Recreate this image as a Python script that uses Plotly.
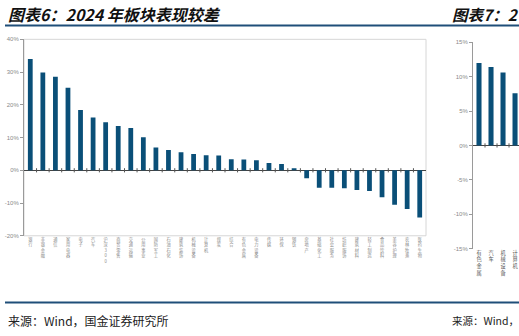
import plotly.graph_objects as go

W, H = 519, 336

# 图表6：申万一级行业 2024 年涨跌幅（%）
sectors = ["银行", "非银金融", "通信", "家用电器", "电子", "汽车", "沪深300", "商贸零售",
           "交通运输", "公用事业", "国防军工", "石油石化", "建筑装饰", "机械设备", "计算机",
           "煤炭", "综合", "有色金属", "电力设备", "传媒", "环保", "钢铁", "房地产",
           "基础化工", "社会服务", "纺织服饰", "建筑材料", "轻工制造", "食品饮料",
           "美容护理", "农林牧渔", "医药生物"]
returns = [34.0, 29.9, 28.6, 25.2, 18.4, 16.1, 14.7, 13.5, 12.9, 10.1, 7.0, 6.2, 5.5,
           5.0, 4.6, 4.5, 3.4, 3.3, 3.1, 2.2, 1.9, 0.3, -2.4, -5.3, -5.3, -5.5, -6.0,
           -6.3, -8.2, -10.5, -11.8, -14.4]

# 图表7：板块涨跌幅（%）
sectors7 = ["有色金属", "汽车", "机械设备", "计算机"]
returns7 = [12.0, 11.4, 10.6, 7.6]

y1_ticks = [-20, -10, 0, 10, 20, 30, 40]
y2_ticks = [-15, -10, -5, 0, 5, 10, 15]

BAR = "#0a4f78"
BLUE_LINE = "#1f4e79"
CJK = "Noto Sans CJK SC"


def px(x):
    return x / W


def py(y):
    return 1 - y / H


def stacked(label):
    return "<br>".join(label)


fig = go.Figure()

x1 = list(range(len(sectors)))
fig.add_trace(go.Bar(x=x1, y=returns, marker=dict(color=BAR, line_width=0),
                     width=0.38, xaxis="x", yaxis="y", hoverinfo="skip"))
# small category separators on the zero line
fig.add_trace(go.Scatter(x=[i + 0.5 for i in x1[:-1]], y=[0] * (len(x1) - 1),
                         mode="markers", xaxis="x", yaxis="y", hoverinfo="skip",
                         marker=dict(symbol="line-ns", size=3,
                                     line=dict(color="#555", width=1))))

x2 = list(range(len(sectors7)))
fig.add_trace(go.Bar(x=x2, y=returns7, marker=dict(color=BAR, line_width=0),
                     width=0.42, xaxis="x2", yaxis="y2", hoverinfo="skip"))
fig.add_trace(go.Scatter(x=[i + 0.5 for i in x2], y=[0] * len(x2),
                         mode="markers", xaxis="x2", yaxis="y2", hoverinfo="skip",
                         marker=dict(symbol="line-ns", size=3,
                                     line=dict(color="#555", width=1))))

axis_font = dict(family="Arial", size=6, color="#8a8a8a")

fig.update_layout(
    width=W, height=H, margin=dict(l=0, r=0, t=0, b=0),
    paper_bgcolor="white", plot_bgcolor="white", showlegend=False,
    xaxis=dict(domain=[px(24), px(426)], range=[-0.5, len(sectors) - 0.5],
               tickmode="array", tickvals=x1, ticktext=[stacked(s) for s in sectors],
               tickangle=0, tickfont=dict(family=CJK, size=4.2, color="#8a8a8a"),
               ticks="", showline=False, showgrid=False, zeroline=False,
               anchor="y", fixedrange=True),
    yaxis=dict(domain=[py(237), py(37)], range=[-20, 40], tickmode="array",
               tickvals=y1_ticks, ticktext=[f"{v}%" for v in y1_ticks],
               tickfont=axis_font, showline=True, linecolor="#9a9a9a",
               linewidth=1, ticks="outside", ticklen=3, tickcolor="#9a9a9a",
               showgrid=False, zeroline=True, zerolinecolor="#444", zerolinewidth=1,
               anchor="x", fixedrange=True),
    xaxis2=dict(domain=[px(473), 1.0], range=[-0.5, 3.33],
                tickmode="array", tickvals=x2, ticktext=[stacked(s) for s in sectors7],
                tickangle=0, tickfont=dict(family=CJK, size=5.2, color="#555"),
                ticks="", showline=False, showgrid=False, zeroline=False,
                anchor="y2", fixedrange=True),
    yaxis2=dict(domain=[py(250), py(40)], range=[-15, 15], tickmode="array",
                tickvals=y2_ticks, ticktext=[f"{v}%" for v in y2_ticks],
                tickfont=axis_font, showline=True, linecolor="#9a9a9a",
                linewidth=1, ticks="outside", ticklen=3, tickcolor="#9a9a9a",
                showgrid=False, zeroline=True, zerolinecolor="#444", zerolinewidth=1,
                anchor="x2", fixedrange=True),
)

shapes = [
    # rules under the titles and above the sources
    dict(type="line", xref="paper", yref="paper", x0=px(5), x1=1.0,
         y0=py(23), y1=py(23), line=dict(color=BLUE_LINE, width=2)),
    dict(type="line", xref="paper", yref="paper", x0=px(5), x1=1.0,
         y0=py(305), y1=py(305), line=dict(color=BLUE_LINE, width=2)),
    # light border around the first plot area
    dict(type="rect", xref="x domain", yref="y domain", x0=0, x1=1, y0=0, y1=1,
         line=dict(color="#d6d6d6", width=1), layer="below"),
]
fig.update_layout(shapes=shapes)

fig.add_annotation(text="<b><i>图表6：2024 年板块表现较差</i></b>", xref="paper", yref="paper",
                   x=px(6), y=py(11), xanchor="left", yanchor="middle",
                   showarrow=False, font=dict(family=CJK, size=16, color="#111"))
fig.add_annotation(text="<b><i>图表7：2</i></b>", xref="paper", yref="paper",
                   x=px(450), y=py(11), xanchor="left", yanchor="middle",
                   showarrow=False, font=dict(family=CJK, size=15.5, color="#111"))
fig.add_annotation(text="来源：Wind，国金证券研究所", xref="paper", yref="paper",
                   x=px(6), y=py(323), xanchor="left", yanchor="middle",
                   showarrow=False, font=dict(family=CJK, size=12, color="#222"))
fig.add_annotation(text="来源：Wind，", xref="paper", yref="paper",
                   x=px(450), y=py(323), xanchor="left", yanchor="middle",
                   showarrow=False, font=dict(family=CJK, size=10.5, color="#222"))

fig.write_html("out.html", config={"displayModeBar": False})
